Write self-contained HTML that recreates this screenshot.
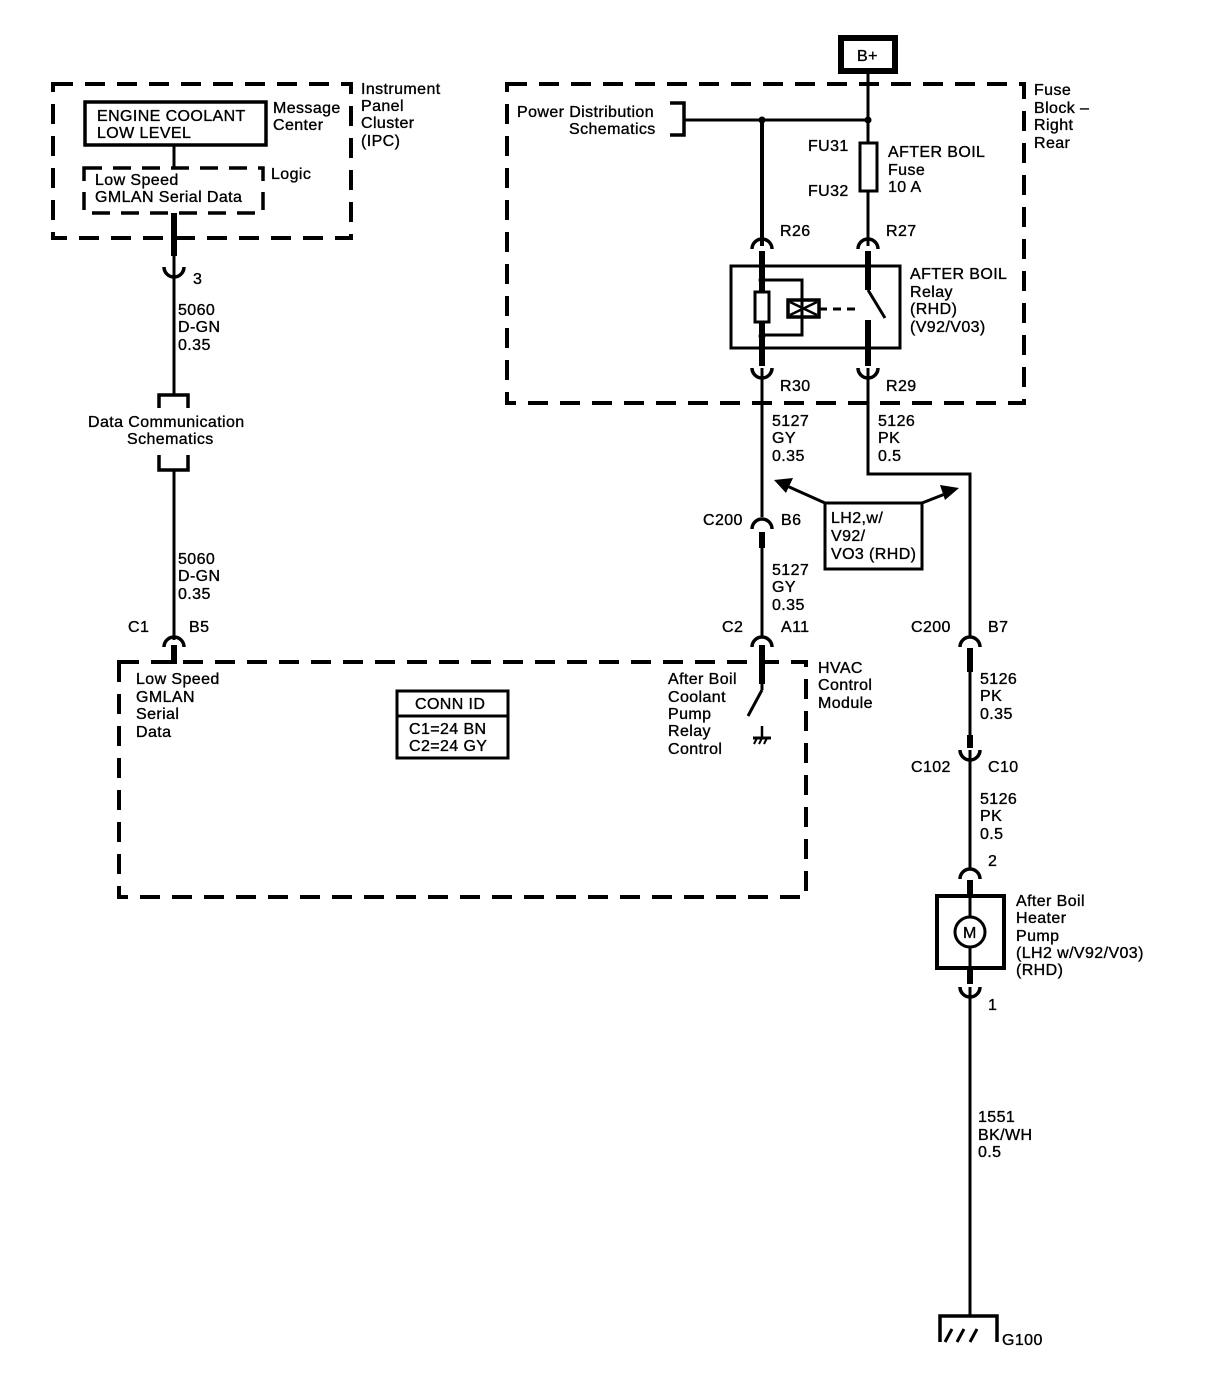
<!DOCTYPE html>
<html><head><meta charset="utf-8"><style>
body{margin:0;background:#fff}
svg text{font-family:"Liberation Sans",sans-serif;font-size:16px;letter-spacing:0.4px;fill:#000;stroke:#000;stroke-width:0.35px}
</style></head><body>
<svg width="1230" height="1392" viewBox="0 0 1230 1392" xmlns="http://www.w3.org/2000/svg">
<g fill="none" stroke="#000">
<rect x="53" y="84" width="298" height="154" stroke-width="4" stroke-dasharray="20 12"/>
<rect x="84" y="168" width="179" height="45" stroke-width="3.5" stroke-dasharray="18 11"/>
<rect x="507" y="84" width="517" height="319" stroke-width="4" stroke-dasharray="20 12"/>
<rect x="119" y="662" width="687" height="235" stroke-width="4" stroke-dasharray="20 12"/>
<rect x="85" y="102" width="181" height="43" stroke-width="3.5"/>
<rect x="841" y="38" width="54" height="33" stroke-width="6"/>
<rect x="397" y="691" width="111" height="67" stroke-width="3"/>
<line x1="397" y1="716" x2="508" y2="716" stroke-width="3"/>
<rect x="731" y="266" width="169" height="82" stroke-width="3"/>
<rect x="937" y="896" width="67" height="72" stroke-width="4"/>
<rect x="825" y="503" width="97" height="66" stroke-width="3"/>
<line x1="174" y1="145" x2="174" y2="168" stroke-width="3"/>
<line x1="174" y1="213" x2="174" y2="256" stroke-width="6"/>
<path d="M164 267 A10 10 0 0 0 184 267" stroke-width="3.5"/>
<line x1="174" y1="256" x2="174" y2="395" stroke-width="3"/>
<path d="M159 408 V395 H188 V408" stroke-width="3.5"/>
<path d="M159 455 V470 H188 V455" stroke-width="3.5"/>
<line x1="174" y1="470" x2="174" y2="640" stroke-width="3"/>
<path d="M164 647 A10 10 0 0 1 184 647" stroke-width="3.5"/>
<line x1="174" y1="645" x2="174" y2="664" stroke-width="6"/>
<line x1="868" y1="73" x2="868" y2="143" stroke-width="3"/>
<path d="M670 103 H684 V135 H670" stroke-width="3.5"/>
<line x1="684" y1="120" x2="868" y2="120" stroke-width="3"/>
<circle cx="762" cy="120" r="3.5" fill="#000" stroke="none"/>
<circle cx="868" cy="120" r="3.5" fill="#000" stroke="none"/>
<rect x="860" y="143" width="17" height="48" stroke-width="3"/>
<line x1="868" y1="191" x2="868" y2="246" stroke-width="3"/>
<line x1="762" y1="120" x2="762" y2="246" stroke-width="4"/>
<path d="M752 249 A10 10 0 0 1 772 249" stroke-width="3.5"/>
<path d="M858 249 A10 10 0 0 1 878 249" stroke-width="3.5"/>
<line x1="762" y1="251" x2="762" y2="366" stroke-width="6"/>
<line x1="868" y1="251" x2="868" y2="290" stroke-width="6"/>
<line x1="868" y1="290" x2="885" y2="318" stroke-width="3"/>
<line x1="868" y1="320" x2="868" y2="366" stroke-width="6"/>
<rect x="755" y="292" width="14" height="30" stroke-width="3" fill="#fff"/>
<path d="M762 280 H802 V335 H762" stroke-width="3"/>
<circle cx="762" cy="280" r="3.5" fill="#000" stroke="none"/>
<circle cx="762" cy="336" r="3.5" fill="#000" stroke="none"/>
<rect x="788" y="300" width="31" height="17" stroke-width="3.5"/>
<path d="M790 302 L817 315 M790 315 L817 302" stroke-width="2.5"/>
<line x1="819" y1="309" x2="860" y2="309" stroke-width="3" stroke-dasharray="8 6"/>
<path d="M752 368 A10 10 0 0 0 772 368" stroke-width="3.5"/>
<path d="M858 368 A10 10 0 0 0 878 368" stroke-width="3.5"/>
<line x1="762" y1="368" x2="762" y2="517" stroke-width="3"/>
<path d="M752 529 A10 10 0 0 1 772 529" stroke-width="3.5"/>
<line x1="762" y1="532" x2="762" y2="548" stroke-width="6"/>
<line x1="762" y1="548" x2="762" y2="637" stroke-width="3"/>
<path d="M752 647 A10 10 0 0 1 772 647" stroke-width="3.5"/>
<line x1="762" y1="645" x2="762" y2="684" stroke-width="6"/>
<line x1="762" y1="684" x2="762" y2="690" stroke-width="3"/>
<line x1="762" y1="690" x2="748" y2="716" stroke-width="3"/>
<line x1="762" y1="726" x2="762" y2="738" stroke-width="2.5"/>
<line x1="753" y1="738" x2="771" y2="738" stroke-width="3"/>
<path d="M754 744 L757 738 M759 744 L762 738 M764 744 L767 738" stroke-width="2"/>
<path d="M868 368 V474 H970 V637" stroke-width="3"/>
<path d="M960 647 A10 10 0 0 1 980 647" stroke-width="3.5"/>
<line x1="970" y1="648" x2="970" y2="672" stroke-width="6"/>
<line x1="970" y1="672" x2="970" y2="740" stroke-width="3"/>
<line x1="970" y1="735" x2="970" y2="748" stroke-width="6"/>
<path d="M960 750 A10 10 0 0 0 980 750" stroke-width="3.5"/>
<line x1="970" y1="750" x2="970" y2="870" stroke-width="3"/>
<path d="M960 879 A10 10 0 0 1 980 879" stroke-width="3.5"/>
<line x1="970" y1="880" x2="970" y2="896" stroke-width="6"/>
<line x1="970" y1="896" x2="970" y2="917" stroke-width="3"/>
<circle cx="970" cy="932" r="15" stroke-width="3"/>
<line x1="970" y1="947" x2="970" y2="968" stroke-width="3"/>
<line x1="970" y1="968" x2="970" y2="984" stroke-width="6"/>
<path d="M960 987 A10 10 0 0 0 980 987" stroke-width="3.5"/>
<line x1="970" y1="987" x2="970" y2="1316" stroke-width="3"/>
<path d="M940 1342 V1316 H997 V1342" stroke-width="3.5"/>
<path d="M945 1342 L952 1329 M957 1342 L964 1329 M970 1342 L977 1329" stroke-width="3"/>
<line x1="825" y1="503" x2="787" y2="486" stroke-width="3"/>
<line x1="922" y1="503" x2="945" y2="494" stroke-width="3"/>
</g>
<polygon points="774,480 793,478 786,493" fill="#000"/>
<polygon points="959,488 940,485 945,500" fill="#000"/>
<g>
<text x="97" y="121" font-size="15.5">ENGINE COOLANT</text>
<text x="97" y="138" font-size="15.5">LOW LEVEL</text>
<text x="273" y="113">Message</text><text x="273" y="130">Center</text>
<text x="361" y="94">Instrument</text><text x="361" y="111">Panel</text><text x="361" y="128">Cluster</text><text x="361" y="146">(IPC)</text>
<text x="95" y="185">Low Speed</text><text x="95" y="202">GMLAN Serial Data</text>
<text x="271" y="179">Logic</text>
<text x="193" y="284">3</text>
<text x="178" y="315">5060</text><text x="178" y="332">D-GN</text><text x="178" y="350">0.35</text>
<text x="88" y="427">Data Communication</text><text x="127" y="444">Schematics</text>
<text x="178" y="564">5060</text><text x="178" y="581">D-GN</text><text x="178" y="599">0.35</text>
<text x="128" y="632">C1</text><text x="189" y="632">B5</text>
<text x="136" y="684">Low Speed</text><text x="136" y="702">GMLAN</text><text x="136" y="719">Serial</text><text x="136" y="737">Data</text>
<text x="415" y="709">CONN ID</text>
<text x="409" y="734">C1=24 BN</text><text x="409" y="751">C2=24 GY</text>
<text x="668" y="684">After Boil</text><text x="668" y="702">Coolant</text><text x="668" y="719">Pump</text><text x="668" y="736">Relay</text><text x="668" y="754">Control</text>
<text x="818" y="673">HVAC</text><text x="818" y="690">Control</text><text x="818" y="708">Module</text>
<text x="857" y="61">B+</text>
<text x="517" y="117">Power Distribution</text><text x="569" y="134">Schematics</text>
<text x="1034" y="95">Fuse</text><text x="1034" y="113">Block –</text><text x="1034" y="130">Right</text><text x="1034" y="148">Rear</text>
<text x="808" y="151">FU31</text><text x="808" y="196">FU32</text>
<text x="888" y="157" font-size="17">AFTER BOIL</text><text x="888" y="175">Fuse</text><text x="888" y="192">10 A</text>
<text x="780" y="236">R26</text><text x="886" y="236">R27</text>
<text x="910" y="279" font-size="17">AFTER BOIL</text><text x="910" y="297">Relay</text><text x="910" y="314">(RHD)</text><text x="910" y="332">(V92/V03)</text>
<text x="780" y="391">R30</text><text x="886" y="391">R29</text>
<text x="772" y="426">5127</text><text x="772" y="443">GY</text><text x="772" y="461">0.35</text>
<text x="878" y="426">5126</text><text x="878" y="443">PK</text><text x="878" y="461">0.5</text>
<text x="703" y="525">C200</text><text x="781" y="525">B6</text>
<text x="831" y="523">LH2,w/</text><text x="831" y="541">V92/</text><text x="831" y="559">VO3 (RHD)</text>
<text x="772" y="575">5127</text><text x="772" y="592">GY</text><text x="772" y="610">0.35</text>
<text x="722" y="632">C2</text><text x="781" y="632">A11</text>
<text x="911" y="632">C200</text><text x="988" y="632">B7</text>
<text x="980" y="684">5126</text><text x="980" y="701">PK</text><text x="980" y="719">0.35</text>
<text x="911" y="772">C102</text><text x="988" y="772">C10</text>
<text x="980" y="804">5126</text><text x="980" y="821">PK</text><text x="980" y="839">0.5</text>
<text x="988" y="866">2</text>
<text x="963" y="938" font-size="13">M</text>
<text x="1016" y="906">After Boil</text><text x="1016" y="923">Heater</text><text x="1016" y="941">Pump</text><text x="1016" y="958">(LH2 w/V92/V03)</text><text x="1016" y="975">(RHD)</text>
<text x="988" y="1010">1</text>
<text x="978" y="1122">1551</text><text x="978" y="1140">BK/WH</text><text x="978" y="1157">0.5</text>
<text x="1002" y="1345">G100</text>
</g>
</svg>
</body></html>
